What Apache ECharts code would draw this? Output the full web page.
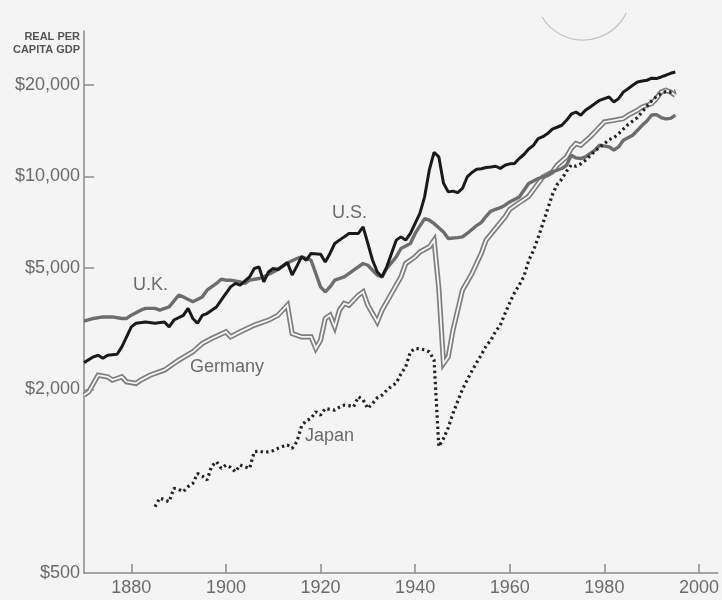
<!DOCTYPE html>
<html>
<head>
<meta charset="utf-8">
<script src="https://cdn.jsdelivr.net/npm/echarts@6/dist/echarts.min.js"></script>
<style>
html,body{margin:0;padding:0;background:#f4f4f4;}
#chart{width:722px;height:600px;}
</style>
</head>
<body>
<div id="chart"></div>
<script>
// ---- Data (real per capita GDP, log scale) ----
const yTickValues = [500, 2000, 5000, 10000, 20000];
const xTickValues = [1880, 1900, 1920, 1940, 1960, 1980, 2000];

const usYears = [1870,1872,1873,1874,1875,1877,1878,1880,1881,1883,1885,1887,1888,1889,1891,1892,1893,1894,1895,1896,1898,1899,1901,1902,1903,1905,1906,1907,1908,1909,1910,1911,1913,1914,1915,1916,1917,1918,1920,1921,1922,1923,1924,1925,1926,1928,1929,1930,1931,1932,1933,1934,1935,1936,1937,1938,1939,1940,1941,1942,1943,1944,1945,1946,1947,1948,1949,1950,1951,1952,1953,1954,1955,1956,1957,1958,1959,1960,1961,1962,1963,1964,1965,1966,1967,1968,1969,1970,1971,1972,1973,1974,1975,1976,1977,1978,1979,1980,1981,1982,1983,1984,1985,1986,1987,1988,1989,1990,1991,1992,1993,1994,1995];
const usValues = [2450,2560,2590,2530,2590,2610,2760,3210,3300,3330,3300,3330,3210,3380,3500,3690,3420,3300,3500,3550,3730,3930,4340,4460,4400,4680,4990,5050,4510,4860,4990,4950,5220,4750,5080,5450,5310,5590,5560,5240,5590,6025,6180,6335,6500,6500,6830,6030,5310,4860,4680,5050,5590,6180,6335,6180,6500,7010,7560,8570,10500,12000,11600,9500,8900,8950,8850,9130,9960,10300,10550,10600,10700,10740,10800,10620,10880,11000,11020,11450,11800,12300,12650,13300,13500,13820,14300,14500,14720,15280,16000,16270,15870,16480,16900,17335,17770,18000,18220,17550,18000,18900,19400,19900,20400,20550,20680,21000,20940,21200,21480,21800,22020];

const ukYears = [1870,1872,1874,1876,1878,1879,1880,1882,1883,1885,1886,1888,1890,1891,1893,1895,1896,1898,1899,1900,1901,1903,1904,1905,1907,1908,1910,1911,1913,1915,1916,1918,1919,1920,1921,1922,1923,1925,1926,1927,1929,1930,1931,1932,1933,1934,1936,1937,1939,1940,1942,1943,1944,1946,1947,1949,1950,1951,1953,1954,1955,1956,1957,1958,1959,1960,1962,1963,1964,1966,1968,1969,1971,1972,1973,1974,1975,1976,1978,1979,1981,1982,1983,1984,1986,1987,1988,1989,1990,1991,1992,1993,1994,1995];
const ukValues = [3350,3420,3460,3460,3420,3420,3505,3640,3690,3690,3640,3735,4077,4025,3877,4025,4235,4455,4600,4567,4567,4510,4455,4567,4625,4683,4861,4950,5200,5379,5446,5311,4802,4341,4181,4341,4567,4683,4802,4924,5180,5113,4924,4745,4683,4990,5446,5803,6025,6500,7275,7185,7000,6576,6256,6300,6335,6500,6900,7070,7400,7700,7800,7900,8050,8250,8567,9010,9475,9840,10090,10345,10617,10880,11735,11500,11447,11590,12190,12653,12500,12190,12500,13140,13650,14170,14720,15200,15900,15950,15600,15450,15500,15900];

const deYears = [1870,1871,1873,1875,1876,1878,1879,1881,1882,1884,1887,1890,1893,1895,1897,1900,1901,1903,1906,1909,1911,1913,1914,1916,1918,1919,1920,1921,1922,1923,1924,1925,1926,1928,1929,1930,1932,1933,1935,1937,1938,1940,1941,1943,1944,1945,1946,1947,1948,1950,1952,1954,1955,1957,1959,1960,1962,1964,1966,1967,1969,1970,1972,1973,1974,1975,1977,1979,1980,1982,1984,1985,1987,1988,1990,1991,1992,1993,1994,1995];
const deValues = [1917,1965,2229,2200,2147,2200,2120,2094,2147,2229,2316,2496,2658,2831,2941,3091,2977,3091,3251,3376,3506,3780,3053,2977,2977,2727,2902,3420,3506,3211,3640,3830,3780,4077,4181,3780,3334,3640,4130,4683,5180,5446,5655,5873,6180,4300,2435,2560,3131,4236,4802,5600,6180,6748,7364,7800,8200,8600,9475,9963,10345,10880,11590,12350,12820,12653,13480,14530,15090,15280,15480,15870,16480,16900,17335,18000,18920,19170,18920,18460];

const jpYears = [1885,1886,1887,1888,1889,1890,1891,1892,1893,1894,1895,1896,1897,1898,1899,1900,1901,1902,1903,1904,1905,1906,1907,1908,1909,1910,1911,1912,1913,1914,1915,1916,1917,1918,1919,1920,1921,1922,1923,1924,1925,1926,1927,1928,1929,1930,1931,1932,1933,1934,1935,1936,1937,1938,1939,1940,1941,1942,1943,1944,1945,1946,1947,1948,1949,1950,1951,1952,1953,1954,1955,1956,1957,1958,1959,1960,1961,1962,1963,1964,1965,1966,1967,1968,1969,1970,1971,1972,1973,1974,1975,1976,1977,1978,1979,1980,1981,1982,1983,1984,1985,1986,1987,1988,1989,1990,1991,1992,1993,1994,1995];
const jpValues = [825,880,870,857,948,940,924,960,984,1060,1040,1009,1120,1159,1102,1130,1110,1074,1130,1115,1102,1249,1255,1245,1249,1260,1282,1300,1315,1282,1348,1520,1580,1608,1690,1648,1733,1720,1711,1750,1777,1770,1755,1893,1850,1733,1800,1880,1917,1990,2050,2100,2250,2374,2658,2727,2720,2700,2658,2500,1300,1380,1500,1670,1830,2000,2150,2300,2450,2600,2780,2900,3100,3250,3550,3850,4150,4400,4700,5300,5700,6300,7000,7800,8700,9400,9800,10400,10900,10800,11000,11300,11700,12100,12500,12800,13200,13400,13800,14300,14800,15200,15600,16300,17000,17700,18300,18700,19000,18900,19100];

const seriesLabels = ['U.S.', 'U.K.', 'Germany', 'Japan'];
const axisTitleLines = ['REAL PER', 'CAPITA GDP'];

function pairs(xs, ys) { return xs.map((x, i) => [x, ys[i]]); }

const chart = echarts.init(document.getElementById('chart'), null, {renderer: 'canvas'});
const FONT = '"Liberation Sans", Arial, Helvetica, sans-serif';
const TXT = '#6b6b6b';
const AX = '#8a8a8a';

const option = {
  backgroundColor: '#f4f4f4',
  animation: false,
  grid: {left: 84, right: 2, top: 31, bottom: 27, containLabel: false},
  xAxis: {
    type: 'value', min: 1870, max: 2004,
    splitLine: {show: false},
    axisLine: {show: true, lineStyle: {color: AX, width: 1.5}},
    axisTick: {show: true, inside: true, length: 9, customValues: xTickValues, lineStyle: {color: AX, width: 1.5}},
    axisLabel: {customValues: xTickValues, color: TXT, fontSize: 18, fontFamily: FONT, margin: 6, formatter: v => String(v)}
  },
  yAxis: {
    type: 'log', logBase: 10, min: 500, max: 30000,
    splitLine: {show: false},
    axisLine: {show: true, lineStyle: {color: AX, width: 1.5}},
    axisTick: {show: true, inside: true, length: 10, customValues: yTickValues.slice(1), lineStyle: {color: AX, width: 1.5}},
    axisLabel: {customValues: yTickValues, color: TXT, fontSize: 18, fontFamily: FONT, margin: 4,
      formatter: v => '$' + Math.round(v).toLocaleString('en-US')}
  },
  series: [
    {name: 'Germany', type: 'line', data: pairs(deYears, deValues), symbol: 'none', z: 2,
      lineStyle: {color: '#7e7e7e', width: 5.2, join: 'miter'}},
    {name: 'Germany inner', type: 'line', data: pairs(deYears, deValues), symbol: 'none', z: 3,
      lineStyle: {color: '#f6f6f6', width: 1.8, join: 'miter'}},
    {name: 'U.K.', type: 'line', data: pairs(ukYears, ukValues), symbol: 'none', z: 4,
      lineStyle: {color: '#6d6d6d', width: 3.4}},
    {name: 'Japan', type: 'line', data: pairs(jpYears, jpValues), symbol: 'none', z: 5,
      lineStyle: {color: '#222', width: 3.2, type: [2.4, 3.2], cap: 'butt'}},
    {name: 'U.S.', type: 'line', data: pairs(usYears, usValues), symbol: 'none', z: 6,
      lineStyle: {color: '#1a1a1a', width: 3}}
  ],
  graphic: [
    {type: 'text', right: 642, top: 31, style: {text: axisTitleLines[0], fill: '#555', font: 'bold 11px ' + FONT}},
    {type: 'text', right: 642, top: 44, style: {text: axisTitleLines[1], fill: '#555', font: 'bold 11px ' + FONT}},
    {type: 'text', left: 133, top: 276, style: {text: seriesLabels[1], fill: TXT, font: '18px ' + FONT}},
    {type: 'text', left: 332, top: 204, style: {text: seriesLabels[0], fill: TXT, font: '18px ' + FONT}},
    {type: 'text', left: 190, top: 358, style: {text: seriesLabels[2], fill: TXT, font: '18px ' + FONT}},
    {type: 'text', left: 305, top: 427, style: {text: seriesLabels[3], fill: TXT, font: '18px ' + FONT}},
    {type: 'arc', shape: {cx: 583, cy: -8, r: 48, startAngle: 0.45, endAngle: 2.6}, style: {stroke: '#c4c4c4', lineWidth: 1.2, fill: null}, silent: true}
  ]
};
chart.setOption(option);
</script>
</body>
</html>
